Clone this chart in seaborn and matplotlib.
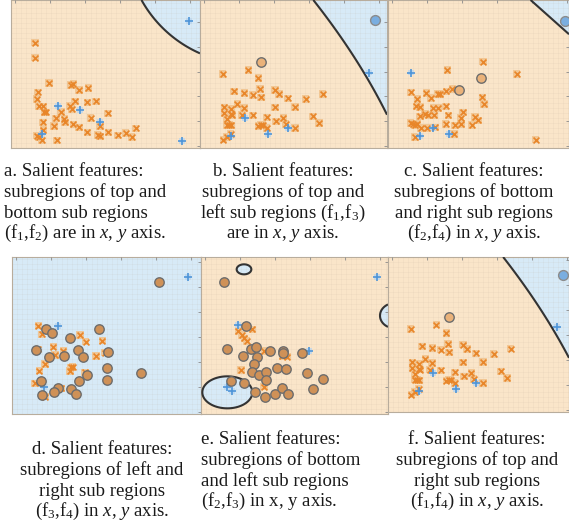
import numpy as np
import matplotlib
matplotlib.use("Agg")
import matplotlib.pyplot as plt
import seaborn as sns

sns.set_theme(style="white")
plt.rcParams["font.family"] = ["Liberation Serif", "DejaVu Serif"]
plt.rcParams["mathtext.fontset"] = "custom"
plt.rcParams["mathtext.rm"] = "Liberation Serif"
plt.rcParams["mathtext.it"] = "Liberation Serif:italic"
plt.rcParams["mathtext.bf"] = "Liberation Serif:bold"

# ---------------- samples per feature pair ----------------
# (a) f1 / f2
a_org_x = [72, 72, 114, 80, 77, 180, 187, 204, 232, 84, 97, 100, 104, 150, 177, 182, 192, 229, 255, 290, 95,
           135, 160, 162, 129, 187, 204, 239, 97, 77, 84, 92, 137, 229, 260, 267, 292, 267, 320, 344, 362, 374]
a_org_y = [317, 272, 195, 167, 147, 189, 192, 175, 180, 125, 125, 107, 107, 109, 127, 117, 140, 137, 140, 104, 77,
           89, 87, 77, 67, 71, 62, 90, 55, 37, 32, 23, 23, 47, 40, 35, 47, 67, 38, 45, 33, 59]
a_blu_x = [534, 140, 208, 267, 94, 513]
a_blu_y = [383, 125, 113, 77, 43, 22]

# (b) f1 / f3   (also shown again in panel f)
b_org_x = [68, 145, 175, 102, 133, 158, 180, 183, 225, 237, 263, 317, 368, 73, 93, 112, 132, 225, 285, 73, 97,
           93, 125, 158, 200, 228, 250, 338, 357, 80, 80, 88, 93, 175, 183, 188, 200, 257, 285, 92, 80, 70]
b_org_y = [222, 235, 210, 170, 165, 160, 177, 152, 175, 162, 149, 147, 163, 122, 118, 132, 120, 122, 123, 105, 100,
           102, 100, 98, 92, 80, 90, 95, 75, 88, 70, 70, 68, 67, 70, 70, 60, 72, 60, 43, 33, 25]
b_sv_x = [183]
b_sv_y = [259]
b_blu_x = [508, 135, 205, 265, 92]
b_blu_y = [227, 90, 43, 60, 35]
b_bsv_x = [526]
b_bsv_y = [384]

# (c) f2 / f4
c_org_x = [285, 178, 386, 68, 88, 115, 128, 150, 156, 175, 193, 283, 288, 85, 96, 136, 151, 173, 225, 96, 111,
           121, 138, 181, 218, 261, 271, 68, 76, 81, 88, 98, 118, 141, 173, 201, 220, 251, 198, 81, 443]
c_org_y = [260, 235, 223, 167, 148, 165, 150, 162, 162, 170, 177, 152, 133, 125, 123, 120, 120, 125, 107, 95, 102,
           100, 100, 98, 90, 93, 83, 75, 72, 70, 73, 60, 60, 62, 72, 68, 72, 70, 43, 33, 25]
c_sv_x = [278, 213]
c_sv_y = [210, 175]
c_blu_x = [68, 136, 183, 96]
c_blu_y = [227, 60, 43, 35]
c_bsv_x = [531]
c_bsv_y = [383]

# (d) f3 / f4
d_sv_x = [442, 101, 119, 174, 262, 71, 112, 157, 199, 214, 287, 284, 387, 87, 137, 127, 177, 192, 202, 226, 284, 89]
d_sv_y = [395, 255, 242, 227, 254, 192, 172, 175, 192, 170, 187, 137, 122, 100, 79, 65, 74, 59, 100, 117, 103, 57]
d_org_x = [79, 89, 204, 221, 271, 124, 129, 77, 154, 252, 279, 99, 82, 182, 174, 177, 219, 69, 147, 99]
d_org_y = [265, 239, 237, 217, 220, 202, 177, 194, 190, 174, 184, 150, 130, 142, 129, 140, 125, 92, 77, 52]
d_blu_x = [137, 529, 97]
d_blu_y = [265, 410, 80]

# (e) f2 / f3
e_sv_x = [69, 135, 79, 127, 150, 165, 169, 207, 245, 247, 304, 159, 154, 174, 194, 194, 229, 254, 319, 365,
          130, 162, 192, 222, 244, 262, 335, 90]
e_sv_y = [395, 265, 195, 175, 195, 202, 172, 189, 189, 182, 182, 149, 127, 117, 125, 102, 137, 135, 122, 104,
          92, 67, 52, 60, 77, 59, 75, 99]
e_org_x = [154, 112, 122, 130, 137, 190, 244, 259, 120, 189]
e_org_y = [254, 249, 237, 227, 219, 189, 174, 172, 132, 82]
e_blu_x = [112, 527, 325, 79, 94]
e_blu_y = [267, 410, 190, 80, 70]

# ---------------- classifier parameters ----------------
a_center = (717, 625)
a_radius = 372
b_poly = [606.4, -0.411, -0.000422]          # boundary x = p0 + p1*y + p2*y^2
c_line = [0.893, 1.0, -827.0]                # a*x + b*y + c > 0 -> blue
e_ell_cx = [129, 79, 582]
e_ell_cy = [434, 65, 295]
e_ell_a = [22, 75, 45]
e_ell_b = [15, 48, 38]

ORANGE_BG = "#fae5c9"
BLUE_BG = "#d7eaf7"
EDGE = "#333333"
ORANGE = "#e8862a"
ORANGE_HALO = "#f2c48f"
BLUE = "#4f95d8"
BLUE_HALO = "#bcd7ef"

W, H = 569, 529
fig = plt.figure(figsize=(W / 100, H / 100), dpi=100)
fig.patch.set_facecolor("white")


def make_axes(left, top, right, bottom):
    return fig.add_axes([left / W, 1 - bottom / H, (right - left) / W, (bottom - top) / H])


def draw_panel(ax, xlim, ylim, score):
    gx, gy = np.meshgrid(np.linspace(xlim[0], xlim[1], 500), np.linspace(ylim[0], ylim[1], 500))
    z = score(gx, gy)
    ax.contourf(gx, gy, z, levels=[-1e12, 0, 1e12], colors=[ORANGE_BG, BLUE_BG], zorder=0)
    if z.min() < 0 < z.max():
        ax.contour(gx, gy, z, levels=[0], colors=EDGE, linewidths=1.5, zorder=5)
    ax.set_xlim(*xlim)
    ax.set_ylim(*ylim)
    ax.set_xticks(np.arange(xlim[0] + 12, xlim[1], 105))
    ax.set_yticks(np.arange(ylim[0] + 5, ylim[1], 75))
    ax.set_xticks(np.arange(xlim[0], xlim[1], 15), minor=True)
    ax.set_yticks(np.arange(ylim[0], ylim[1], 15), minor=True)
    ax.set_axisbelow(False)
    ax.grid(which="minor", color="#b9ab98", linewidth=0.4, alpha=0.16, zorder=1)
    ax.tick_params(which="major", direction="in", length=2.5, width=0.6, color="#8a8a8a",
                   top=True, right=True, labelbottom=False, labelleft=False)
    ax.tick_params(which="minor", length=0)
    for s in ax.spines.values():
        s.set_color("#b8ad9d")
        s.set_linewidth(0.8)
    ax.set_xlabel("")
    ax.set_ylabel("")


def orange_pts(ax, xs, ys):
    sns.scatterplot(x=xs, y=ys, marker="s", s=30, color=ORANGE_HALO, edgecolor="none",
                    linewidth=0, ax=ax, legend=False, zorder=6, alpha=0.9)
    sns.scatterplot(x=xs, y=ys, marker="x", s=18, color=ORANGE, linewidth=1.2,
                    ax=ax, legend=False, zorder=7)


def blue_pts(ax, xs, ys):
    sns.scatterplot(x=xs, y=ys, marker="s", s=18, color=BLUE_HALO, edgecolor="none",
                    linewidth=0, ax=ax, legend=False, zorder=6, alpha=0.8)
    sns.scatterplot(x=xs, y=ys, marker="+", s=28, color=BLUE, linewidth=1.2,
                    ax=ax, legend=False, zorder=7)


def orange_sv(ax, xs, ys, face="#cf9157"):
    sns.scatterplot(x=xs, y=ys, marker="o", s=46, color=face, edgecolor="#6d6d6d",
                    linewidth=1.0, ax=ax, legend=False, zorder=8)


def blue_sv(ax, xs, ys):
    sns.scatterplot(x=xs, y=ys, marker="o", s=50, color="#7aaee0", edgecolor="#8c8c8c",
                    linewidth=1.0, ax=ax, legend=False, zorder=8)


def score_a(x, y):
    return a_radius ** 2 - (x - a_center[0]) ** 2 - (y - a_center[1]) ** 2


def score_b(x, y):
    return x - (b_poly[0] + b_poly[1] * y + b_poly[2] * y ** 2)


def score_c(x, y):
    return c_line[0] * x + c_line[1] * y + c_line[2]


def score_d(x, y):
    return np.ones_like(x)


def score_e(x, y):
    parts = [1 - ((x - cx) / a) ** 2 - ((y - cy) / b) ** 2
             for cx, cy, a, b in zip(e_ell_cx, e_ell_cy, e_ell_a, e_ell_b)]
    return np.max(parts, axis=0)


# ---- top row ----
ax = make_axes(11, 0, 200, 148)
draw_panel(ax, (0, 567), (0, 445), score_a)
orange_pts(ax, a_org_x, a_org_y)
blue_pts(ax, a_blu_x, a_blu_y)

ax = make_axes(200, 0, 387, 148)
draw_panel(ax, (0, 561), (0, 445), score_b)
orange_pts(ax, b_org_x, b_org_y)
blue_pts(ax, b_blu_x, b_blu_y)
orange_sv(ax, b_sv_x, b_sv_y, face="#eab27a")
blue_sv(ax, b_bsv_x, b_bsv_y)

ax = make_axes(388, 0, 569, 148)
draw_panel(ax, (0, 543), (0, 445), score_c)
orange_pts(ax, c_org_x, c_org_y)
blue_pts(ax, c_blu_x, c_blu_y)
orange_sv(ax, c_sv_x, c_sv_y, face="#eab27a")
blue_sv(ax, c_bsv_x, c_bsv_y)

# ---- bottom row ----
ax = make_axes(12, 257, 201, 414)
draw_panel(ax, (0, 567), (0, 471), score_d)
orange_pts(ax, d_org_x, d_org_y)
orange_sv(ax, d_sv_x, d_sv_y)
blue_pts(ax, d_blu_x, d_blu_y)

ax = make_axes(201, 257, 388, 414)
draw_panel(ax, (0, 561), (0, 471), score_e)
orange_pts(ax, e_org_x, e_org_y)
orange_sv(ax, e_sv_x, e_sv_y)
blue_pts(ax, e_blu_x, e_blu_y)

ax = make_axes(388, 257, 569, 412)
draw_panel(ax, (0, 543), (-27, 438), score_b)
orange_pts(ax, b_org_x, b_org_y)
blue_pts(ax, b_blu_x, b_blu_y)
orange_sv(ax, b_sv_x, b_sv_y, face="#eab27a")
blue_sv(ax, b_bsv_x, b_bsv_y)

# ---- captions ----
FS = 13.5
captions = [
    (4, 172, "left", ["a. Salient features:", "subregions of top and", "bottom sub regions",
                      r"$\mathrm{(f_1{,}f_2)}$ are in $x$, $y$ axis."]),
    (283, 172, "center", ["b. Salient features:", "subregions of top and",
                          r"left sub regions $\mathrm{(f_1{,}f_3)}$", r"are in $x$, $y$ axis."]),
    (474, 172, "center", ["c. Salient features:", "subregions of bottom", "and right sub regions",
                          r"$\mathrm{(f_2{,}f_4)}$ in $x$, $y$ axis."]),
    (102, 450, "center", ["d. Salient features:", "subregions of left and", "right sub regions",
                          r"$\mathrm{(f_3{,}f_4)}$ in $x$, $y$ axis."]),
    (201, 440, "left", ["e. Salient features:", "subregions of bottom", "and left sub regions",
                        r"$\mathrm{(f_2{,}f_3)}$ in x, y axis."]),
    (477, 440, "center", ["f. Salient features:", "subregions of top and", "right sub regions",
                          r"$\mathrm{(f_1{,}f_4)}$ in $x$, $y$ axis."]),
]
for x0, y0, ha, lines in captions:
    for i, line in enumerate(lines):
        fig.text(x0 / W, 1 - (y0 + i * 20.5) / H, line, ha=ha, va="center",
                 fontsize=FS, color="#1a1a1a")

fig.savefig("out.png", dpi=100)
